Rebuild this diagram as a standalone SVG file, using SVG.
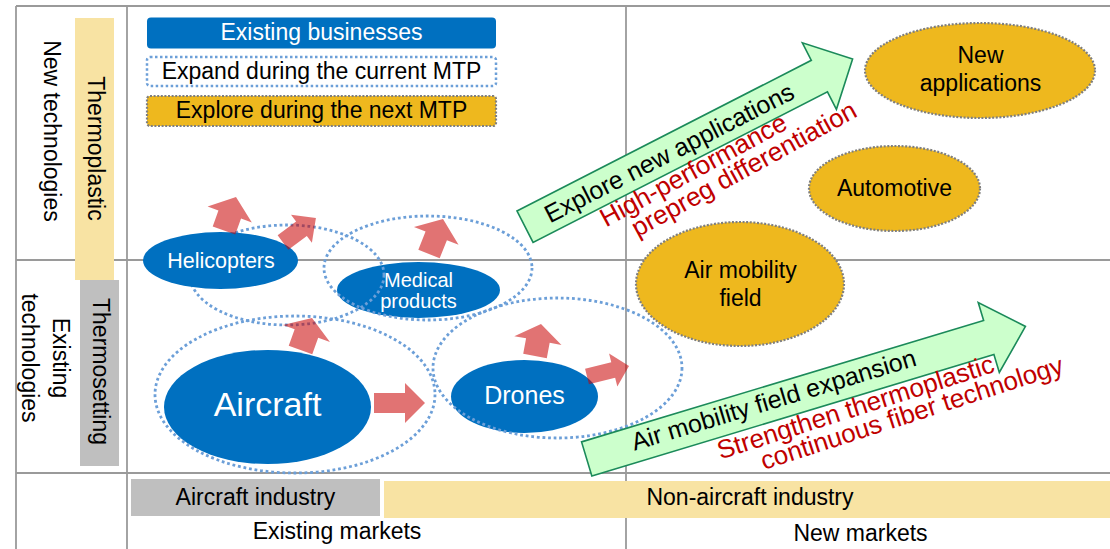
<svg xmlns="http://www.w3.org/2000/svg" width="1110" height="549" viewBox="0 0 1110 549">
  <defs>
    <style>
      text { font-family: "Liberation Sans", Arial, sans-serif; }
      .grid { stroke: #9a9a9a; stroke-width: 1.8; fill: none; }
      .lbl { font-size: 23px; fill: #000; }
      .wlbl { fill: #fff; }
      .biz { fill: #0070c0; }
      .expand { fill: none; stroke: #6c9fd8; stroke-width: 2.8; stroke-dasharray: 2.8 2.8; }
      .explore { fill: #eeb81e; stroke: #7f7f7f; stroke-width: 2.2; stroke-dasharray: 2 1.6; }
      .push { fill: #c80000; fill-opacity: 0.55; }
      .green { fill: #ccffcc; stroke: #1b8a5a; stroke-width: 1.6; }
      .red { font-size: 26px; fill: #c00000; }
      .arrtxt { font-size: 25px; fill: #000; }
    </style>
  </defs>

  <rect width="1110" height="549" fill="#fff"/>

  <!-- quadrant grid -->
  <g id="grid">
    <line class="grid" x1="16" y1="6" x2="1110" y2="6"/>
    <line class="grid" x1="16" y1="260" x2="1110" y2="260"/>
    <line class="grid" x1="16" y1="473" x2="1110" y2="473"/>
    <line class="grid" x1="16" y1="6" x2="16" y2="549"/>
    <line class="grid" x1="127" y1="6" x2="127" y2="549"/>
    <line class="grid" x1="626" y1="6" x2="626" y2="549"/>
  </g>

  <!-- vertical axis labels -->
  <g id="axis-tech">
    <text class="lbl" text-anchor="middle" transform="translate(43.5,131) rotate(90)">New technologies</text>
    <rect x="75" y="18" width="39" height="262" fill="#f8e3a3"/>
    <text class="lbl" text-anchor="middle" transform="translate(87.5,148.5) rotate(90)">Thermoplastic</text>
    <rect x="80" y="280" width="39" height="186" fill="#bfbfbf"/>
    <text class="lbl" text-anchor="middle" transform="translate(92.5,371.5) rotate(90)">Thermosetting</text>
    <text class="lbl" text-anchor="middle" transform="translate(52.5,358) rotate(90)">Existing</text>
    <text class="lbl" text-anchor="middle" transform="translate(22,358) rotate(90)">technologies</text>
  </g>

  <!-- horizontal axis labels -->
  <g id="axis-market">
    <rect x="131" y="479" width="249" height="37" fill="#bfbfbf"/>
    <text class="lbl" x="255.5" y="504.5" text-anchor="middle">Aircraft industry</text>
    <rect x="384" y="481" width="726" height="37" fill="#f8e3a3"/>
    <text class="lbl" x="750" y="505" text-anchor="middle">Non-aircraft industry</text>
    <text class="lbl" x="337" y="538.5" text-anchor="middle">Existing markets</text>
    <text class="lbl" x="860.5" y="541" text-anchor="middle">New markets</text>
  </g>

  <!-- legend -->
  <g id="legend">
    <rect class="biz" x="147" y="17.5" width="349" height="31" rx="4"/>
    <text class="lbl wlbl" x="321.5" y="39.5" text-anchor="middle">Existing businesses</text>
    <rect x="147" y="57" width="349" height="29" rx="3" fill="#fff" stroke="#6c9fd8" stroke-width="2.5" stroke-dasharray="2.5 2.5"/>
    <text class="lbl" x="321.5" y="79" text-anchor="middle">Expand during the current MTP</text>
    <rect class="explore" x="147" y="96" width="349" height="30" rx="3"/>
    <text class="lbl" x="321.5" y="117.5" text-anchor="middle">Explore during the next MTP</text>
  </g>

  <!-- existing businesses -->
  <g id="node-medical">
    <ellipse class="biz" cx="418.5" cy="290" rx="81.5" ry="28"/>
    <text class="wlbl" font-size="20" x="418.5" y="286.5" text-anchor="middle">Medical</text>
    <text class="wlbl" font-size="20" x="418.5" y="307.5" text-anchor="middle">products</text>
  </g>
  <g id="node-drones">
    <ellipse class="biz" cx="524.5" cy="396.5" rx="73.5" ry="36.5"/>
    <text class="wlbl" font-size="25" x="524.5" y="403.5" text-anchor="middle">Drones</text>
  </g>
  <g id="node-aircraft">
    <ellipse class="biz" cx="267.5" cy="407" rx="103.5" ry="57"/>
    <text class="wlbl" font-size="34" x="267.5" y="415.5" text-anchor="middle">Aircraft</text>
  </g>

  <!-- areas to expand during the current plan -->
  <g id="expand-areas">
    <ellipse class="expand" cx="287" cy="275" rx="97" ry="50"/>
    <ellipse class="expand" cx="428" cy="268" rx="104" ry="52"/>
    <ellipse class="expand" cx="295" cy="394.5" rx="140" ry="78.5"/>
    <ellipse class="expand" cx="557.5" cy="368" rx="124.5" ry="70"/>
  </g>

  <g id="node-helicopters">
    <ellipse class="biz" cx="220.5" cy="260.5" rx="77.5" ry="28.5"/>
    <text class="wlbl" font-size="21.5" x="221" y="267.5" text-anchor="middle">Helicopters</text>
  </g>

  <!-- areas to explore during the next plan -->
  <g id="node-new-applications">
    <ellipse class="explore" cx="980" cy="70.5" rx="115" ry="47.5"/>
    <text class="lbl" x="980.5" y="63" text-anchor="middle">New</text>
    <text class="lbl" x="980.5" y="91" text-anchor="middle">applications</text>
  </g>
  <g id="node-automotive">
    <ellipse class="explore" cx="894.5" cy="188.5" rx="85.5" ry="42.5"/>
    <text class="lbl" x="894.5" y="196" text-anchor="middle">Automotive</text>
  </g>
  <g id="node-air-mobility">
    <ellipse class="explore" cx="740" cy="284" rx="104" ry="62"/>
    <text class="lbl" x="740.5" y="278" text-anchor="middle">Air mobility</text>
    <text class="lbl" x="740.5" y="306" text-anchor="middle">field</text>
  </g>

  <!-- connectors: growth arrows -->
  <g id="connectors">
    <polygon class="push" transform="translate(224,230.5) rotate(-70.3)" points="0,-12 17,-12 17,-23.5 35.6,0 17,23.5 17,12 0,12"/>
    <polygon class="push" transform="translate(283,242.5) rotate(-36.6)" points="0,-9 23,-9 23,-17.5 41,0 23,17.5 23,9 0,9"/>
    <polygon class="push" transform="translate(429,254) rotate(-68.2)" points="0,-11.5 19.5,-11.5 19.5,-24 37.7,0 19.5,24 19.5,11.5 0,11.5"/>
    <polygon class="push" transform="translate(300.5,350) rotate(-70.2)" points="0,-12.5 17.5,-12.5 17.5,-25 34,0 17.5,25 17.5,12.5 0,12.5"/>
    <polygon class="push" transform="translate(374,403) rotate(0)" points="0,-10 31,-10 31,-20 51,0 31,20 31,10 0,10"/>
    <polygon class="push" transform="translate(535,356) rotate(-79.4)" points="0,-12 15.7,-12 15.7,-24 32.6,0 15.7,24 15.7,12 0,12"/>
    <polygon class="push" transform="translate(587,376.5) rotate(-14)" points="0,-8 27,-8 27,-17 43.3,0 27,17 27,8 0,8"/>

    <g id="arrow-explore" transform="translate(525,226.7) rotate(-27.1)">
      <polygon class="green" points="0,-17.7 330.7,-17.7 330.7,-37.4 368,0 330.7,37.4 330.7,17.7 0,17.7"/>
      <text class="arrtxt" x="162" y="8.5" text-anchor="middle">Explore new applications</text>
    </g>
    <g id="arrow-air-mobility" transform="translate(586.7,458.9) rotate(-16.8)">
      <polygon class="green" points="0,-17.8 420,-17.8 420,-36.5 458.3,0 420,36.5 420,17.8 0,17.8"/>
      <text class="arrtxt" font-size="26" x="48" y="6">Air mobility field expansion</text>
    </g>
  </g>

  <!-- technology focus notes -->
  <g id="notes">
    <text class="red" transform="translate(606,227.5) rotate(-28.5)">High-performance</text>
    <text class="red" transform="translate(637.5,237.5) rotate(-28.8)">prepreg differentiation</text>
    <text class="red" transform="translate(720.5,459.5) rotate(-17.7)">Strengthen thermoplastic</text>
    <text class="red" transform="translate(764,470) rotate(-17.9)">continuous fiber technology</text>
  </g>
</svg>
